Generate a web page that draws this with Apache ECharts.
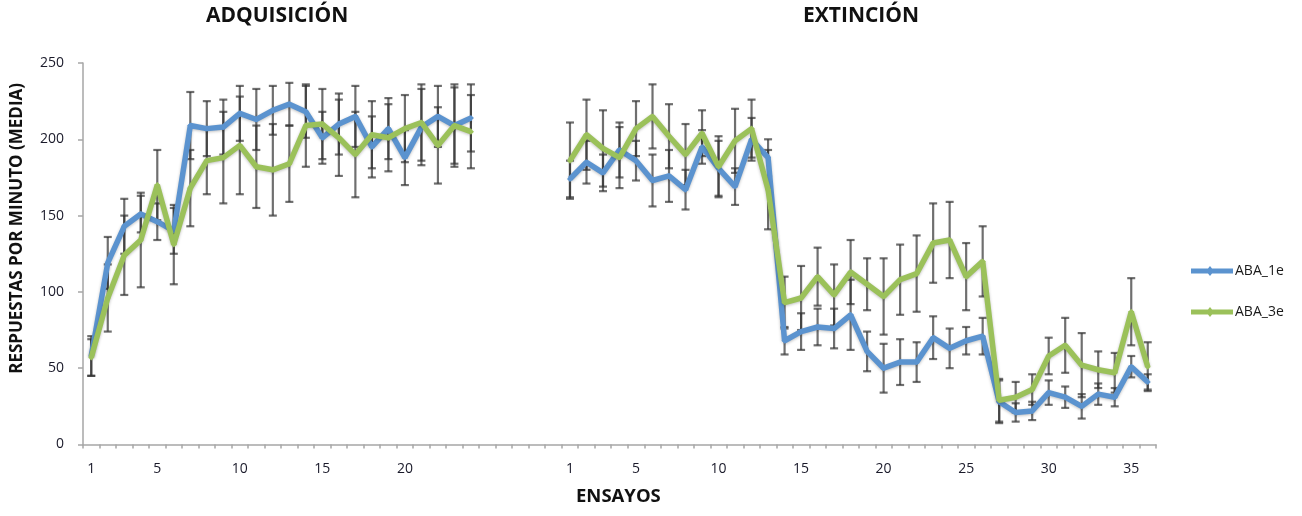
<!DOCTYPE html>
<html>
<head>
<meta charset="utf-8">
<script src="https://cdn.jsdelivr.net/npm/echarts@6/dist/echarts.min.js"></script>
<style>html,body{margin:0;padding:0;background:#fff}#c{width:1302px;height:516px}</style>
</head>
<body>
<div id="c"></div>
<script>
// Acquisition phase (24 trials)
var acqBlue  = [58,119,143,151,146,140,209,207,208,217,213,219,223,218,201,210,215,195,207,188,208,215,209,214];
var acqBlueE = [13,17,18,12,12,15,22,18,18,18,20,16,14,17,17,20,20,20,20,18,25,20,25,22];
var acqGreen = [57,96,124,134,170,131,168,186,188,196,182,180,184,209,210,201,190,203,201,207,211,196,209,205];
var acqGreenE= [12,22,26,31,23,26,25,22,30,32,27,30,25,27,23,25,28,22,22,22,25,25,27,24];
// Extinction phase (36 trials)
var extBlue  = [174,185,178,193,186,173,176,167,195,181,169,200,188,68,74,77,76,85,61,50,54,54,70,63,68,71,28,21,22,34,31,25,33,31,51,41];
var extBlueE = [12,14,12,18,13,17,17,13,11,18,12,14,12,9,12,12,13,23,13,16,15,13,14,13,9,12,14,6,6,8,7,8,7,6,7,5];
var extGreen = [186,203,194,188,207,215,202,190,204,182,199,207,167,93,96,110,98,113,105,97,108,112,132,134,110,120,29,31,36,58,65,52,49,47,87,51];
var extGreenE= [25,23,25,20,18,21,21,20,15,20,21,19,26,17,21,19,20,21,17,25,23,25,26,25,22,23,14,10,10,12,18,21,12,13,22,16];
var gapSlots = 5;
var acqTickLabels = ['1','5','10','15','20'];
var extTickLabels = ['1','5','10','15','20','25','30','35'];
var seriesNames = ['ABA_1e','ABA_3e'];
var phaseTitles = ['ADQUISICIÓN','EXTINCIÓN'];
var xTitle = 'ENSAYOS';
var yTitle = 'RESPUESTAS POR MINUTO (MEDIA)';

// build category axis: acquisition, gap, extinction
var cats = [], labelOf = {};
acqBlue.forEach(function(_, i){ var k='A'+(i+1); cats.push(k); labelOf[k] = acqTickLabels.indexOf(String(i+1))>=0 ? String(i+1) : ''; });
for (var g=0; g<gapSlots; g++){ var k='G'+g; cats.push(k); labelOf[k]=''; }
extBlue.forEach(function(_, i){ var k='E'+(i+1); cats.push(k); labelOf[k] = extTickLabels.indexOf(String(i+1))>=0 ? String(i+1) : ''; });

function gapNulls(){ var a=[]; for (var g=0; g<gapSlots; g++) a.push(null); return a; }
var blueLine = acqBlue.concat(gapNulls(), extBlue);
var greenLine = acqGreen.concat(gapNulls(), extGreen);
function errData(vals, errs, offset){
  return vals.map(function(v,i){ return [i+offset, v, errs[i]]; });
}
var extOffset = acqBlue.length + gapSlots;
var blueErr = errData(acqBlue, acqBlueE, 0).concat(errData(extBlue, extBlueE, extOffset));
var greenErr = errData(acqGreen, acqGreenE, 0).concat(errData(extGreen, extGreenE, extOffset));

var BLUE = '#5B93CF', GREEN = '#9BC15A';
var FONT = '"Open Sans", "Liberation Sans", sans-serif';

function errRender(params, api){
  var x = api.value(0), y = api.value(1), e = api.value(2);
  var top = api.coord([x, y+e]), bot = api.coord([x, y-e]);
  var w = 4;
  var st = {stroke:'rgba(50,50,50,0.7)', lineWidth:2.2};
  return {type:'group', children:[
    {type:'line', shape:{x1:top[0],y1:top[1],x2:bot[0],y2:bot[1]}, style:st},
    {type:'line', shape:{x1:top[0]-w,y1:top[1],x2:top[0]+w,y2:top[1]}, style:st},
    {type:'line', shape:{x1:bot[0]-w,y1:bot[1],x2:bot[0]+w,y2:bot[1]}, style:st}
  ]};
}

var chart = echarts.init(document.getElementById('c'), null, {renderer:'canvas'});
chart.setOption({
  animation:false,
  backgroundColor:'#fff',
  grid:{left:83, right:146, top:63, bottom:71.5, containLabel:false},
  xAxis:{
    type:'category', data:cats, boundaryGap:true,
    axisLine:{lineStyle:{color:'#a6a6a6', width:1.5}},
    axisTick:{show:true, interval:0, length:4, lineStyle:{color:'#a6a6a6', width:1.5}},
    axisLabel:{interval:0, margin:18, fontFamily:FONT, fontSize:14, color:'#1a1a2a',
      formatter:function(v){ return labelOf[v]; }},
    splitLine:{show:false}
  },
  yAxis:{
    type:'value', min:0, max:250, interval:50,
    axisLine:{show:true, lineStyle:{color:'#a6a6a6', width:1.5}},
    axisTick:{show:true, inside:false, length:5, lineStyle:{color:'#a6a6a6', width:1.5}},
    axisLabel:{margin:19, fontFamily:FONT, fontSize:14, color:'#1a1a2a'},
    splitLine:{show:false}
  },
  legend:{
    orient:'vertical', left:1186, top:259, itemGap:27, itemWidth:42, itemHeight:12,
    textStyle:{fontFamily:FONT, fontSize:14, color:'#1a1a1a', padding:[0,0,0,-3]},
    data:seriesNames.map(function(n){ return {name:n, icon:'path://M0,3.5 L42,3.5 L42,8.5 L0,8.5 Z M19,1 L23,6 L19,11 L15,6 Z'}; })
  },
  graphic:[
    {type:'text', style:{text:phaseTitles[0], fontFamily:FONT, fontWeight:'bold', fontSize:21, fill:'#111'}, left:206, top:6},
    {type:'text', style:{text:phaseTitles[1], fontFamily:FONT, fontWeight:'bold', fontSize:21, fill:'#111'}, left:803, top:6},
    {type:'text', style:{text:xTitle, fontFamily:FONT, fontWeight:'bold', fontSize:18.5, fill:'#111'}, left:576, top:487},
    {type:'text', style:{text:yTitle, fontFamily:FONT, fontWeight:'bold', fontSize:17, fill:'#111'}, rotation:Math.PI/2, left:9, top:83}
  ],
  series:[
    {name:seriesNames[0]+'_err', type:'custom', renderItem:errRender, data:blueErr, encode:{x:0,y:1}, z:1, silent:true},
    {name:seriesNames[1]+'_err', type:'custom', renderItem:errRender, data:greenErr, encode:{x:0,y:1}, z:1, silent:true},
    {name:seriesNames[0], type:'line', data:blueLine, connectNulls:false, symbol:'diamond', symbolSize:6, showSymbol:true,
      itemStyle:{color:BLUE}, lineStyle:{color:BLUE, width:5.5, shadowColor:'rgba(0,0,0,0.25)', shadowBlur:3, shadowOffsetY:1}, z:3},
    {name:seriesNames[1], type:'line', data:greenLine, connectNulls:false, symbol:'diamond', symbolSize:6, showSymbol:true,
      itemStyle:{color:GREEN}, lineStyle:{color:GREEN, width:5.5, shadowColor:'rgba(0,0,0,0.25)', shadowBlur:3, shadowOffsetY:1}, z:4}
  ]
});
</script>
</body>
</html>
